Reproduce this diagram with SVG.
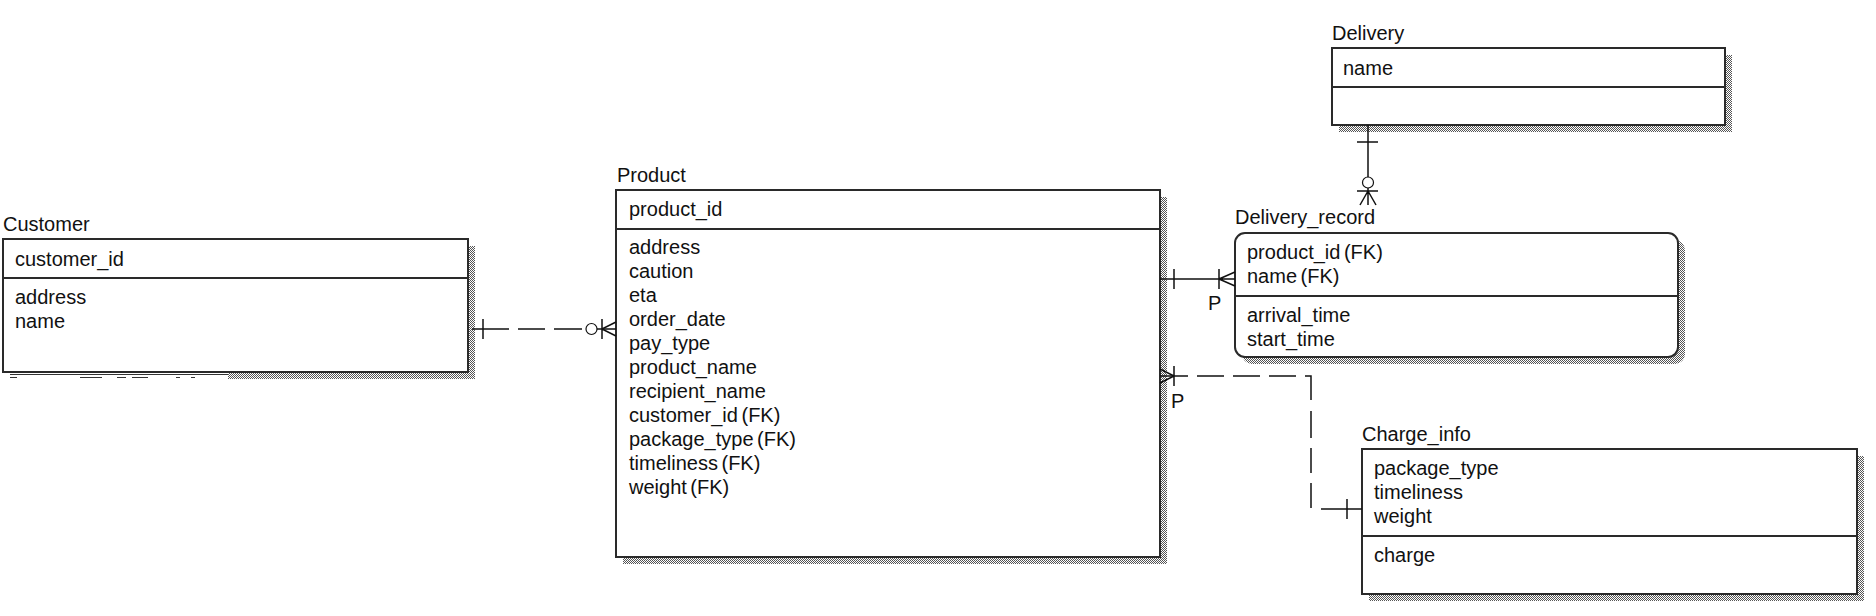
<svg xmlns="http://www.w3.org/2000/svg" width="1876" height="616" viewBox="0 0 1876 616">
<style>
text{font-family:"Liberation Sans",Arial,sans-serif;font-size:20px;fill:#111;word-spacing:-2px}
.box{fill:#fff;stroke:#2a2a2a;stroke-width:2}
.div{stroke:#2a2a2a;stroke-width:2;fill:none}
.sh{fill:url(#dith)}
.ln{stroke:#111;stroke-width:1.5;fill:none}
.thin{stroke:#333;stroke-width:1;fill:none}
.o{stroke:#111;stroke-width:1.2;fill:#fff}
</style>
<defs>
<pattern id="dith" width="2" height="2" patternUnits="userSpaceOnUse"><rect width="2" height="2" fill="#fff"/><rect width="1" height="1" fill="#555"/><rect x="1" y="1" width="1" height="1" fill="#555"/></pattern>
</defs>
<rect width="1876" height="616" fill="#fff"/>
<g id="customer">
<rect class="sh" x="10" y="246" width="465" height="133"/>
<rect x="9" y="373" width="219" height="7" fill="#fff"/>
<path class="thin" d="M10 374.5 H228 M10 377.5 H17 M80 377.5 H102 M117 377.5 H126 M132 377.5 H148 M176 377.5 H180 M191 377.5 H195"/>
<rect class="box" x="3" y="239" width="465" height="133"/>
<line class="div" x1="3" y1="278" x2="468" y2="278"/>
<text x="3" y="231">Customer</text>
<text x="15" y="266">customer_id</text>
<text x="15" y="304">address</text>
<text x="15" y="328">name</text>
</g>
<g id="product">
<rect class="sh" x="623" y="197" width="544" height="367"/>
<rect class="box" x="616" y="190" width="544" height="367"/>
<line class="div" x1="616" y1="229" x2="1160" y2="229"/>
<text x="617" y="182">Product</text>
<text x="629" y="216">product_id</text>
<text x="629" y="254">address</text>
<text x="629" y="278">caution</text>
<text x="629" y="302">eta</text>
<text x="629" y="326">order_date</text>
<text x="629" y="350">pay_type</text>
<text x="629" y="374">product_name</text>
<text x="629" y="398">recipient_name</text>
<text x="629" y="422">customer_id (FK)</text>
<text x="629" y="446">package_type (FK)</text>
<text x="629" y="470">timeliness (FK)</text>
<text x="629" y="494">weight (FK)</text>
</g>
<g id="delivery">
<rect class="sh" x="1339" y="55" width="393" height="77"/>
<rect class="box" x="1332" y="48" width="393" height="77"/>
<line class="div" x1="1332" y1="87" x2="1725" y2="87"/>
<text x="1332" y="40">Delivery</text>
<text x="1343" y="75">name</text>
</g>
<g id="delivery_record">
<rect class="sh" x="1242" y="240" width="443" height="124" rx="10"/>
<rect class="box" x="1235" y="233" width="443" height="124" rx="10"/>
<line class="div" x1="1235" y1="296" x2="1678" y2="296"/>
<text x="1235" y="224">Delivery_record</text>
<text x="1247" y="259">product_id (FK)</text>
<text x="1247" y="283">name (FK)</text>
<text x="1247" y="322">arrival_time</text>
<text x="1247" y="346">start_time</text>
</g>
<g id="charge_info">
<rect class="sh" x="1369" y="456" width="495" height="145"/>
<rect class="box" x="1362" y="449" width="495" height="145"/>
<line class="div" x1="1362" y1="536" x2="1857" y2="536"/>
<text x="1362" y="441">Charge_info</text>
<text x="1374" y="475">package_type</text>
<text x="1374" y="499">timeliness</text>
<text x="1374" y="523">weight</text>
<text x="1374" y="562">charge</text>
</g>
<g id="connectors">
<path class="ln" d="M472 329 H509 M518 329 H545 M554 329 H582 M597 329 H616"/>
<path class="ln" d="M483 319 V339"/>
<circle class="o" cx="591.5" cy="329" r="5.5"/>
<path class="ln" d="M602 319 V339 M602 329 L616 322 M602 329 L616 336"/>
<path class="ln" d="M1160 279 H1235 M1174 269 V289 M1219 269 V289 M1219 279 L1235 272 M1219 279 L1235 286"/>
<text x="1208" y="310">P</text>
<path class="ln" d="M1368 125 V205 M1357 142 H1378 M1357 191 H1378 M1368 191 L1360 205 M1368 191 L1376 205"/>
<circle class="o" cx="1368" cy="182.5" r="5.5"/>
<path class="ln" d="M1160 376 H1188 M1197 376 H1224 M1233 376 H1260 M1269 376 H1296 M1305 376 H1311 V400 M1311 411 V438 M1311 448 V473 M1311 483 V508 M1321 509 H1362"/>
<path class="ln" d="M1174 366 V386 M1174 376 L1160 369 M1174 376 L1160 383 M1347 499 V519"/>
<text x="1171" y="408">P</text>
</g>
</svg>
